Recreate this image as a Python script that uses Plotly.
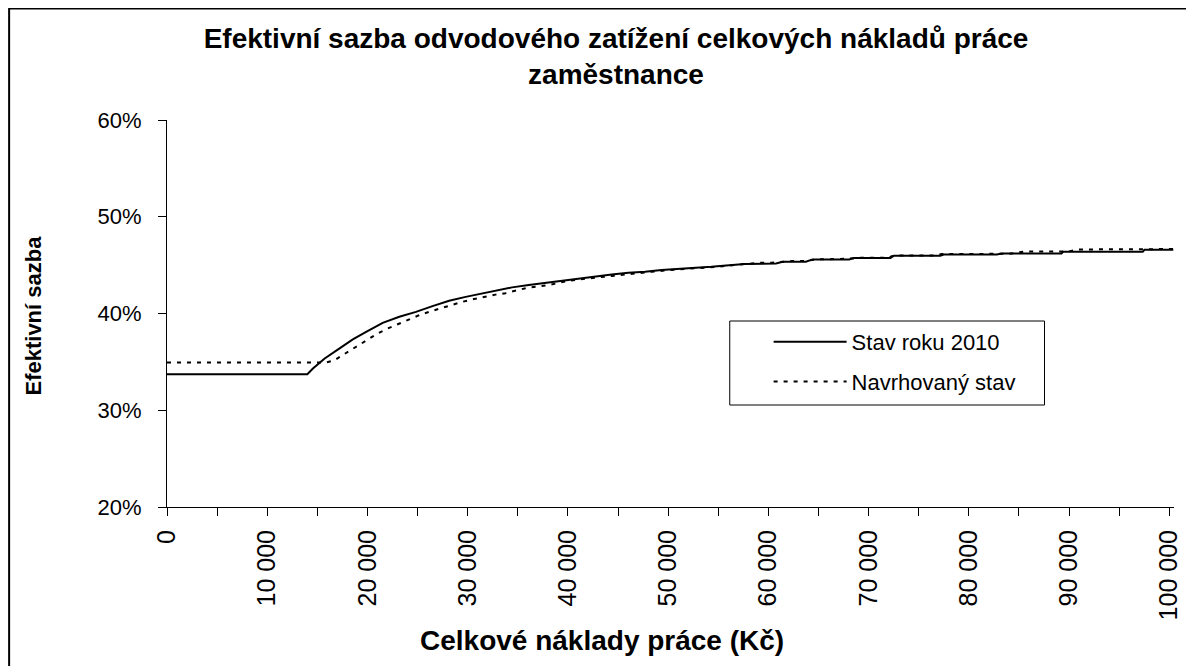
import plotly.graph_objects as go

# ---- data ----
x_2010 = [0, 14000, 14560, 15730, 17220, 18540, 19870, 21520, 23180, 24840, 26490,
          28150, 29800, 31450, 33110, 34430, 36090, 37750, 39400, 41060, 42720,
          44370, 46030, 47690, 49340, 51000, 52650, 54300, 55790, 57620, 60760,
          61430, 63740, 64410, 68050, 68550, 72190, 72520, 77150, 77490, 82790,
          83280, 89240, 89410, 97350, 97520, 100400]
y_2010 = [33.72, 33.72, 34.32, 35.35, 36.39, 37.32, 38.10, 39.03, 39.66, 40.17, 40.76,
          41.31, 41.72, 42.07, 42.40, 42.70, 42.94, 43.17, 43.38, 43.63, 43.80,
          44.04, 44.21, 44.31, 44.49, 44.59, 44.72, 44.83, 44.97, 45.11, 45.18,
          45.35, 45.35, 45.59, 45.59, 45.73, 45.73, 45.97, 45.97, 46.10, 46.10,
          46.21, 46.21, 46.38, 46.38, 46.59, 46.59]

x_navrh = [0, 15900, 16720, 17880, 18870, 20030, 21020, 22020, 23180, 24170, 25330,
           26490, 27480, 28470, 29470, 30630, 31620, 32780, 33780, 35920, 38080,
           40070, 42060, 44370, 46360, 48340, 51000, 53980, 55000, 57120, 59270,
           60300, 62420, 63500, 64900, 68000, 68880, 72000, 72300, 73000, 76500,
           77300, 84000, 85500, 90000, 90800, 100400]
y_navrh = [34.94, 34.94, 35.18, 35.93, 36.55, 37.32, 37.94, 38.45, 38.97, 39.38, 39.90,
           40.28, 40.59, 40.87, 41.21, 41.49, 41.72, 41.95, 42.10, 42.65, 42.94,
           43.38, 43.63, 43.90, 44.14, 44.31, 44.56, 44.77, 44.83, 45.07, 45.24,
           45.24, 45.42, 45.42, 45.59, 45.66, 45.76, 45.76, 45.93, 46.00, 46.00,
           46.15, 46.17, 46.40, 46.42, 46.62, 46.66]

x_tick_vals = [0, 10000, 20000, 30000, 40000, 50000, 60000, 70000, 80000, 90000, 100000]
x_tick_text = ["0", "10 000", "20 000", "30 000", "40 000", "50 000", "60 000",
               "70 000", "80 000", "90 000", "100 000"]
y_tick_vals = [20, 30, 40, 50, 60]
y_tick_text = ["20%", "30%", "40%", "50%", "60%"]

series_names = ["Stav roku 2010", "Navrhovaný stav"]
title_text = "Efektivní sazba odvodového zatížení celkových nákladů práce<br>zaměstnance"
x_title = "Celkové náklady práce (Kč)"
y_title = "Efektivní sazba"

FONT = "Liberation Sans, Arial, sans-serif"
OFF = 8  # page body margin offset in the browser

fig = go.Figure()
fig.add_trace(go.Scatter(x=x_2010, y=y_2010, mode="lines", name=series_names[0],
                         line=dict(color="black", width=2), legendgroup="a"))
fig.add_trace(go.Scatter(x=x_navrh, y=y_navrh, mode="lines", name=series_names[1],
                         line=dict(color="black", width=2, dash="4px,6px"), legendgroup="b"))

W, H = 1186, 658
L, R, T, B = 159, 16, 112, 159
pw, ph = W - L - R, H - T - B


def sx(px):
    """screen x pixel -> paper x"""
    return (px - OFF - L) / pw


def sy(py):
    """screen y pixel -> paper y"""
    return (H - B - (py - OFF)) / ph


fig.update_layout(
    width=W, height=H,
    margin=dict(l=L, r=R, t=T, b=B),
    paper_bgcolor="white", plot_bgcolor="white",
    font=dict(family=FONT, color="black", size=22),
    title=dict(text="<b>" + title_text + "</b>", x=(616 - OFF) / W, xanchor="center",
               xref="container", yref="container", y=1 - 40 / H, yanchor="top",
               font=dict(size=28, family=FONT, color="black")),
    showlegend=True,
    legend=dict(x=sx(771), y=sy(321), xanchor="left", yanchor="top",
                bgcolor="rgba(0,0,0,0)", borderwidth=0,
                font=dict(size=22, family=FONT), tracegroupgap=8,
                itemwidth=73),
    xaxis=dict(range=[0, 100470], showgrid=False, zeroline=False,
               showline=True, linecolor="black", linewidth=1,
               ticks="outside", ticklen=8, tickcolor="black",
               tickvals=x_tick_vals, ticktext=x_tick_text, tickangle=-90,
               tickfont=dict(size=25, family=FONT),
               minor=dict(dtick=5000, ticks="outside", ticklen=8, tickcolor="black"),
               ticklabelstandoff=4),
    yaxis=dict(range=[20, 60], showgrid=False, zeroline=False,
               showline=True, linecolor="black", linewidth=1,
               ticks="outside", ticklen=8, tickcolor="black",
               tickvals=y_tick_vals, ticktext=y_tick_text,
               tickfont=dict(size=22, family=FONT), ticklabelstandoff=12),
    annotations=[
        dict(text="<b>" + x_title + "</b>", xref="paper", yref="paper",
             x=sx(604), y=sy(640), xanchor="center", yanchor="middle",
             showarrow=False, font=dict(size=28, family=FONT, color="black")),
        dict(text="<b>" + y_title + "</b>", xref="paper", yref="paper",
             x=sx(32), y=sy(316), xanchor="center", yanchor="middle",
             textangle=-90, showarrow=False, font=dict(size=22, family=FONT, color="black")),
    ],
    shapes=[
        dict(type="rect", xref="paper", yref="paper",
             x0=(0.5 - L) / pw, x1=(W + 20 - L) / pw, y0=(H - B - (H + 20)) / ph,
             y1=(H - B - 0.5) / ph,
             line=dict(color="black", width=2), fillcolor="rgba(0,0,0,0)", layer="below"),
        dict(type="rect", xref="paper", yref="paper",
             x0=sx(732), x1=sx(1048), y0=sy(405), y1=sy(321),
             line=dict(color="black", width=1), fillcolor="white", layer="above"),
    ],
)

fig.write_html("out.html")
